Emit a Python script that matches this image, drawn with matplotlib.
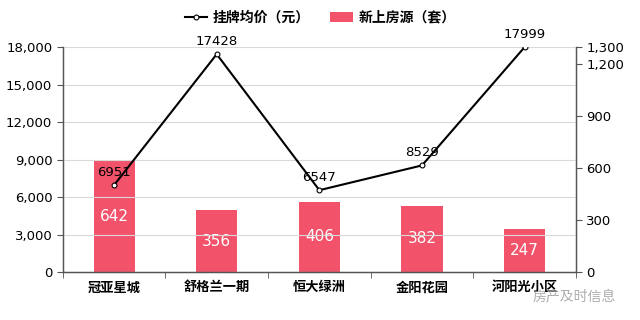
import matplotlib
matplotlib.use("Agg")
import matplotlib.pyplot as plt
import numpy as np
from matplotlib.ticker import FuncFormatter

plt.rcParams['font.family'] = ['Noto Sans CJK SC', 'DejaVu Sans']

categories = ["冠亚星城", "舒格兰一期", "恒大绿洲", "金阳花园", "河阳光小区"]
price = [6951, 17428, 6547, 8529, 17999]      # 挂牌均价（元）
listings = [642, 356, 406, 382, 247]           # 新上房源（套）
left_ticks = [0, 3000, 6000, 9000, 12000, 15000, 18000]
right_ticks = [0, 300, 600, 900, 1200, 1300]

bar_color = "#F2526A"
x = np.arange(len(categories))
fmt = FuncFormatter(lambda v, _: f"{int(v):,}")

fig = plt.figure(figsize=(6.4, 3.2), dpi=100)
ax = fig.add_axes([0.098, 0.15, 0.802, 0.703])
ax2 = ax.twinx()

# bars live on the right axis, the price line on the left one
bars = ax2.bar(x, listings, width=0.4, color=bar_color, zorder=2, label="新上房源（套）")
for xi, v in zip(x, listings):
    ax2.text(xi, v / 2, str(v), ha="center", va="center", color="white",
             fontsize=11, family="DejaVu Sans")

ax.set_zorder(ax2.get_zorder() + 1)
ax.patch.set_visible(False)
line, = ax.plot(x, price, color="black", lw=1.5, marker="o", ms=3.5,
                mfc="white", mec="black", mew=0.8, label="挂牌均价（元）", zorder=3)
for xi, v in zip(x, price):
    ax.text(xi, v + 500, str(v), ha="center", va="bottom", color="black",
            fontsize=9.5, family="DejaVu Sans")

ax.set_xlim(-0.5, len(categories) - 0.5)
ax.set_ylim(0, 18000)
ax2.set_ylim(0, 1300)
ax.set_yticks(left_ticks)
ax2.set_yticks(right_ticks)
ax.yaxis.set_major_formatter(fmt)
ax2.yaxis.set_major_formatter(fmt)
for a in (ax, ax2):
    a.tick_params(axis="y", labelsize=9.5, length=4, color="#555555", width=0.8)
    for t in a.get_yticklabels():
        t.set_family("DejaVu Sans")
ax.grid(axis="y", color="#d9d9d9", lw=0.8, zorder=0)
ax2.yaxis.grid(False)

ax.set_xticks(x)
ax.set_xticklabels(categories, fontsize=9.5, fontweight="bold")
ax.set_xticks(np.arange(len(categories) + 1) - 0.5, minor=True)
ax.tick_params(axis="x", which="major", length=0, pad=6)
ax.tick_params(axis="x", which="minor", length=4, color="#555555")

for a in (ax, ax2):
    a.spines["top"].set_visible(False)
    for s in ("left", "right", "bottom"):
        a.spines[s].set_color("#555555")
        a.spines[s].set_linewidth(0.9)

fig.legend(handles=[line, bars], loc="upper center", bbox_to_anchor=(0.5, 1.005),
           ncol=2, frameon=False, prop={"size": 10, "weight": "bold"},
           handlelength=1.6, columnspacing=1.5, handletextpad=0.4)

# watermark over the last category label, as in the source image
fig.text(0.962, 0.075, "房产及时信息", fontsize=10, color="#999999", alpha=0.8,
         ha="right", va="center")

fig.savefig("out.png", dpi=100)
